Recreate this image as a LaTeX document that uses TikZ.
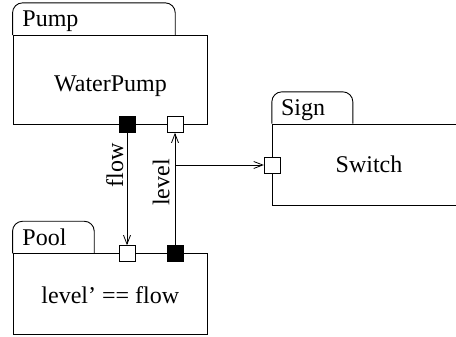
\documentclass[tikz,border=0pt]{standalone}
\usepackage{fontspec}
\setmainfont{Liberation Serif}
\usetikzlibrary{arrows.meta}
\begin{document}
\begin{tikzpicture}[x=1pt,y=-1pt,line width=0.9pt,
  font=\fontsize{24}{28}\selectfont,
  body/.style={draw,rectangle,inner sep=0pt},
  tab/.style={draw,rounded corners=10pt},
  portw/.style={draw,rectangle,fill=white,minimum size=16pt,inner sep=0pt},
  portb/.style={draw,rectangle,fill=black,minimum size=16pt,inner sep=0pt},
  conn/.style={draw,-{Straight Barb[length=9pt,width=7pt,line width=0.8pt]}},
  txt/.style={inner sep=0pt,anchor=base}]
\clip (0,0) rectangle (456,337);
% Pump
\node[body,minimum width=194.7pt,minimum height=88.6pt] (pump) at (110.35,80) {};
\draw[tab] (pump.north west) -- ++(0,-32.4) -- ++(162.7,0) -- ++(0,32.4);
\node[txt,anchor=base west] (pumpname) at (22,27) {Pump};
\node[txt] (pumptxt) at (110.5,92) {WaterPump};
% Pool
\node[body,minimum width=194.7pt,minimum height=80.3pt] (pool) at (110.35,293.85) {};
\draw[tab] (pool.north west) -- ++(0,-32) -- ++(81.7,0) -- ++(0,32);
\node[txt,anchor=base west] (poolname) at (22,245.7) {Pool};
\node[txt] (pooltxt) at (110.3,303.3) {level' == flow};
% Sign
\node[body,minimum width=197.7pt,minimum height=81.7pt] (sign) at (371.15,164.85) {};
\draw[tab] (sign.north west) -- ++(0,-31.7) -- ++(81,0) -- ++(0,31.7);
\node[txt,anchor=base west] (signname) at (280.7,116) {Sign};
\node[txt] (signtxt) at (369,172.7) {Switch};
% ports
\node[portb] (pflow) at (127,124.3) {};
\node[portw] (plevel) at (175,124.3) {};
\node[portw] (qflow) at (127,253.7) {};
\node[portb] (qlevel) at (175,253.7) {};
\node[portw] (slevel) at (272.3,165) {};
% connectors
\coordinate (branch) at (175,165);
\draw[conn] (pflow.south) -- (qflow.north);
\draw[conn] (qlevel.north) -- (plevel.south);
\draw[conn] (branch) -- (slevel.west);
\node[txt,rotate=90] (flowlbl) at (123,165.5) {flow};
\node[txt,rotate=90] (levellbl) at (169.3,182.5) {level};
\end{tikzpicture}
\end{document}
